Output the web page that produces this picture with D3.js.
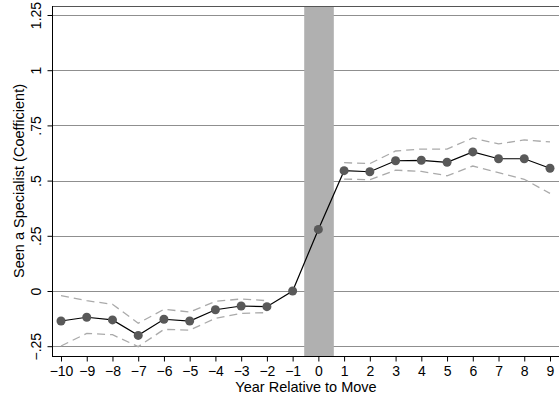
<!DOCTYPE html>
<html><head><meta charset="utf-8">
<script src="https://cdn.jsdelivr.net/npm/d3@7"></script>
<style>body{margin:0;background:#fff;}svg{display:block;font-family:"Liberation Sans",Arial,sans-serif;}</style>
</head><body><svg id="c" width="559" height="402"></svg>
<script>
const years = [-10,-9,-8,-7,-6,-5,-4,-3,-2,-1,0,1,2,3,4,5,6,7,8,9];
const coef = [-0.136,-0.119,-0.131,-0.201,-0.128,-0.136,-0.085,-0.068,-0.071,0,0.279,0.545,0.540,0.590,0.592,0.583,0.630,0.599,0.599,0.556];
const ciYearsPre = [-10,-9,-8,-7,-6,-5,-4,-3,-2];
const upperPre = [-0.021,-0.044,-0.060,-0.146,-0.083,-0.095,-0.047,-0.036,-0.044];
const lowerPre = [-0.249,-0.192,-0.198,-0.252,-0.174,-0.177,-0.124,-0.101,-0.098];
const ciYearsPost = [1,2,3,4,5,6,7,8,9];
const upperPost = [0.581,0.577,0.634,0.643,0.643,0.693,0.666,0.684,0.675];
const lowerPost = [0.507,0.504,0.547,0.542,0.522,0.566,0.536,0.506,0.442];
const yTicks = [-0.25,0,0.25,0.5,0.75,1,1.25];
const yTickLabels = ["\u2212.25","0",".25",".5",".75","1","1.25"];
const xTickLabels = years.map(d => d < 0 ? "\u2212" + Math.abs(d) : String(d));
const band = [-0.55, 0.6];

const svg = d3.select("#c");
const L = 52, R = 559, T = 6, B = 356;
const x = d3.scaleLinear().domain([-10, 9]).range([61, 550]);
const y = d3.scaleLinear().domain([0, 1.25]).range([291, 15]);

// gridlines
svg.append("g").selectAll("line").data(yTicks).join("line")
  .attr("x1", L).attr("x2", R).attr("y1", d => Math.round(y(d)) + 0.5).attr("y2", d => Math.round(y(d)) + 0.5)
  .attr("stroke", "#8f8f8f").attr("stroke-width", 1);
// top border
svg.append("line").attr("x1", L).attr("x2", R).attr("y1", T + 0.5).attr("y2", T + 0.5).attr("stroke", "#555").attr("stroke-width", 1);

// shaded band
svg.append("rect").attr("x", x(band[0])).attr("width", x(band[1]) - x(band[0]))
  .attr("y", T + 1).attr("height", B - T - 1).attr("fill", "#b0b0b0");

// CI dashed lines
const line = d3.line().x(d => x(d[0])).y(d => y(d[1]));
[[ciYearsPre, upperPre], [ciYearsPre, lowerPre], [ciYearsPost, upperPost], [ciYearsPost, lowerPost]].forEach(([xs, vs]) => {
  svg.append("path").datum(xs.map((d, i) => [d, vs[i]])).attr("d", line)
    .attr("fill", "none").attr("stroke", "#aaa").attr("stroke-width", 1.3).attr("stroke-dasharray", "8,5");
});

// main line
svg.append("path").datum(years.map((d, i) => [d, coef[i]])).attr("d", line)
  .attr("fill", "none").attr("stroke", "#000").attr("stroke-width", 1.2);
svg.append("g").selectAll("circle").data(years.map((d, i) => [d, coef[i]])).join("circle")
  .attr("cx", d => x(d[0])).attr("cy", d => y(d[1])).attr("r", 4.5).attr("fill", "#595959");

// y axis
const yAxis = d3.axisLeft(y).tickValues(yTicks).tickSize(5).tickFormat((d, i) => yTickLabels[i]);
const gy = svg.append("g").attr("transform", `translate(${L + 0.5},0)`).call(yAxis);
gy.select(".domain").attr("d", `M0,${T}V${B}`).attr("stroke", "#000");
gy.selectAll(".tick line").attr("stroke", "#000");
gy.selectAll(".tick text").attr("font-size", 14).attr("fill", "#000")
  .attr("text-anchor", "middle").attr("transform", "rotate(-90)")
  .attr("x", 0).attr("y", -12).attr("dy", null);

// x axis
const xAxis = d3.axisBottom(x).tickValues(years).tickSize(5).tickFormat((d, i) => xTickLabels[i]);
const gx = svg.append("g").attr("transform", `translate(0,${B + 0.5})`).call(xAxis);
gx.select(".domain").attr("d", `M${L},0H${R}`).attr("stroke", "#000");
gx.selectAll(".tick line").attr("stroke", "#000");
gx.selectAll(".tick text").attr("font-size", 14).attr("fill", "#000").attr("y", 9.5);

// titles
svg.append("text").attr("x", 306).attr("y", 392).attr("text-anchor", "middle").attr("font-size", 14.5).text("Year Relative to Move");
svg.append("text").attr("transform", "translate(24,181) rotate(-90)").attr("text-anchor", "middle").attr("font-size", 14.5).text("Seen a Specialist (Coefficient)");
</script></body></html>
